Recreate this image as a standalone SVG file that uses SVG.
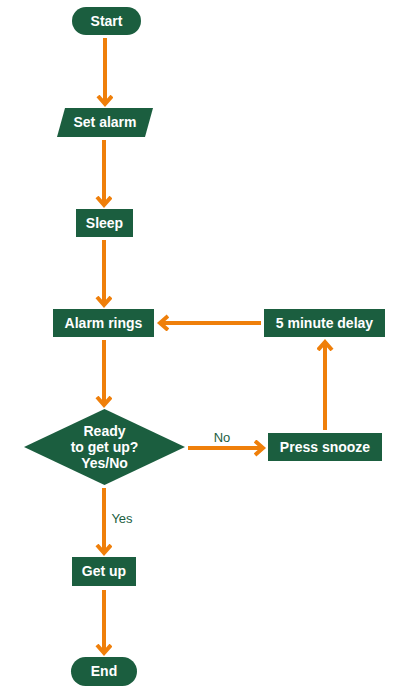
<svg xmlns="http://www.w3.org/2000/svg" width="414" height="700" viewBox="0 0 414 700">
<defs>
<style>
.n{fill:#1b5e3f}
.t{fill:#fff;font-family:"Liberation Sans",Arial,sans-serif;font-weight:bold;font-size:14px;text-anchor:middle}
.l{fill:#1b5e3f;font-family:"Liberation Sans",Arial,sans-serif;font-size:13px;text-anchor:middle}
.c{stroke:#ef7f0a;stroke-width:4;fill:none}
</style>
<marker id="ah" markerUnits="userSpaceOnUse" markerWidth="20" markerHeight="20" refX="9" refY="8" orient="auto" viewBox="0 0 20 20">
<path d="M1,1 L9,8 L1,15" fill="none" stroke="#ef7f0a" stroke-width="4"/>
</marker>
</defs>
<rect width="414" height="700" fill="#fff"/>
<g id="connectors">
<line class="c" x1="105" y1="38" x2="105" y2="104" marker-end="url(#ah)"/>
<line class="c" x1="104" y1="140" x2="104" y2="205" marker-end="url(#ah)"/>
<line class="c" x1="104" y1="240" x2="104" y2="305" marker-end="url(#ah)"/>
<line class="c" x1="261" y1="323" x2="160" y2="323" marker-end="url(#ah)"/>
<line class="c" x1="104" y1="340" x2="104" y2="405" marker-end="url(#ah)"/>
<line class="c" x1="188" y1="448" x2="263" y2="448" marker-end="url(#ah)"/>
<line class="c" x1="325" y1="430" x2="325" y2="342" marker-end="url(#ah)"/>
<line class="c" x1="104" y1="488" x2="104" y2="553" marker-end="url(#ah)"/>
<line class="c" x1="104" y1="590" x2="104" y2="653" marker-end="url(#ah)"/>
<text class="l" x="222" y="442">No</text>
<text class="l" x="122" y="523">Yes</text>
</g>
<g id="start"><rect class="n" x="72" y="7" width="69" height="28" rx="14"/><text class="t" x="106.5" y="26">Start</text></g>
<g id="set-alarm"><polygon class="n" points="65,108 153,108 145,137 57,137"/><text class="t" x="105" y="127">Set alarm</text></g>
<g id="sleep"><rect class="n" x="76" y="209" width="57" height="28"/><text class="t" x="104.5" y="228">Sleep</text></g>
<g id="alarm-rings"><rect class="n" x="53" y="309" width="101" height="28"/><text class="t" x="103.5" y="328">Alarm rings</text></g>
<g id="delay"><rect class="n" x="264" y="309" width="121" height="28"/><text class="t" x="324.5" y="328">5 minute delay</text></g>
<g id="decision"><polygon class="n" points="104.5,409 185,447 104.5,485 24,447"/><text class="t" x="104.5" y="436">Ready</text><text class="t" x="104.5" y="452">to get up?</text><text class="t" x="104.5" y="468">Yes/No</text></g>
<g id="snooze"><rect class="n" x="268" y="433" width="114" height="28"/><text class="t" x="325" y="452">Press snooze</text></g>
<g id="get-up"><rect class="n" x="72" y="557" width="64" height="29"/><text class="t" x="104" y="576">Get up</text></g>
<g id="end"><rect class="n" x="71" y="657" width="66" height="29" rx="14.5"/><text class="t" x="104" y="676">End</text></g>
</svg>
